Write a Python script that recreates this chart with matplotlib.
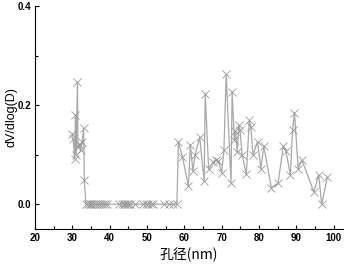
import matplotlib
matplotlib.use('Agg')
import matplotlib.pyplot as plt
from matplotlib.ticker import MultipleLocator

plt.rcParams['font.family'] = ['Liberation Sans', 'DejaVu Sans']

# pore size (nm) and dV/dlog(D)
size_left = [30.0, 30.2, 30.6, 30.8, 31.0, 31.35, 31.5, 31.8, 32.2, 32.6, 33.0, 33.2]
dv_left = [0.142, 0.132, 0.092, 0.180, 0.100, 0.247, 0.115, 0.122, 0.109, 0.125, 0.153, 0.048]

size_zero = [33.6, 34.1, 34.6, 35.1, 35.6, 36.1, 36.6, 37.1, 37.6, 38.1, 38.6, 39.2,
             42.6, 43.2, 43.8, 44.2, 44.5, 44.8, 45.4, 46.9, 49.0, 49.6, 50.3, 51.0,
             51.7, 54.6, 55.8, 57.0, 58.0]
dv_zero = [0.0] * len(size_zero)

size_right = [58.4, 59.5, 61.1, 61.6, 62.3, 62.9, 64.1, 65.3, 65.6, 66.5, 67.8, 68.5,
              69.1, 70.0, 70.6, 71.2, 72.5, 72.8, 73.4, 73.7, 74.2, 74.6, 74.9, 75.5,
              76.6, 77.4, 77.8, 78.4, 79.6, 80.5, 81.3, 83.3, 85.1, 86.5, 87.2, 88.4,
              89.0, 89.5, 90.5, 91.5, 94.7, 96.0, 96.8, 98.3]
dv_right = [0.126, 0.095, 0.036, 0.120, 0.067, 0.100, 0.135, 0.047, 0.223, 0.071, 0.086, 0.090,
            0.087, 0.064, 0.109, 0.262, 0.043, 0.227, 0.130, 0.148, 0.105, 0.160, 0.150, 0.099,
            0.060, 0.169, 0.156, 0.099, 0.126, 0.072, 0.117, 0.033, 0.042, 0.117, 0.108, 0.059,
            0.149, 0.185, 0.072, 0.089, 0.025, 0.059, 0.0, 0.054]

x = size_left + size_zero + size_right
y = dv_left + dv_zero + dv_right

fig = plt.figure(figsize=(3.44, 2.65), dpi=100)
ax = fig.add_axes([0.102, 0.136, 0.895, 0.841])

ax.plot(x, y, color='#a8a8a8', lw=0.9, marker='x', ms=5.5, mew=0.6, mec='#999999')

ax.set_xlim(20, 102.5)
ax.set_ylim(-0.05, 0.4)
ax.xaxis.set_major_locator(MultipleLocator(10))
ax.xaxis.set_minor_locator(MultipleLocator(5))
ax.yaxis.set_minor_locator(MultipleLocator(0.1))
ax.set_yticks([0.0, 0.2, 0.4])
ax.set_yticklabels(['0.0', '0.2', '0.4'])
ax.tick_params(which='both', direction='in', labelsize=7, width=0.8)
ax.tick_params(which='major', length=3, pad=3)
ax.tick_params(which='minor', length=2)
for lab in ax.get_xticklabels() + ax.get_yticklabels():
    lab.set_fontweight('bold')

ax.spines['top'].set_visible(False)
ax.spines['right'].set_visible(False)

ax.set_xlabel('孔径(nm)', fontsize=10, family=['Noto Sans CJK SC', 'Liberation Sans'], labelpad=3)
ax.set_ylabel('dV/dlog(D)', fontsize=9)
ax.yaxis.set_label_coords(-0.058, 0.5)

fig.savefig('out.png', dpi=100)
